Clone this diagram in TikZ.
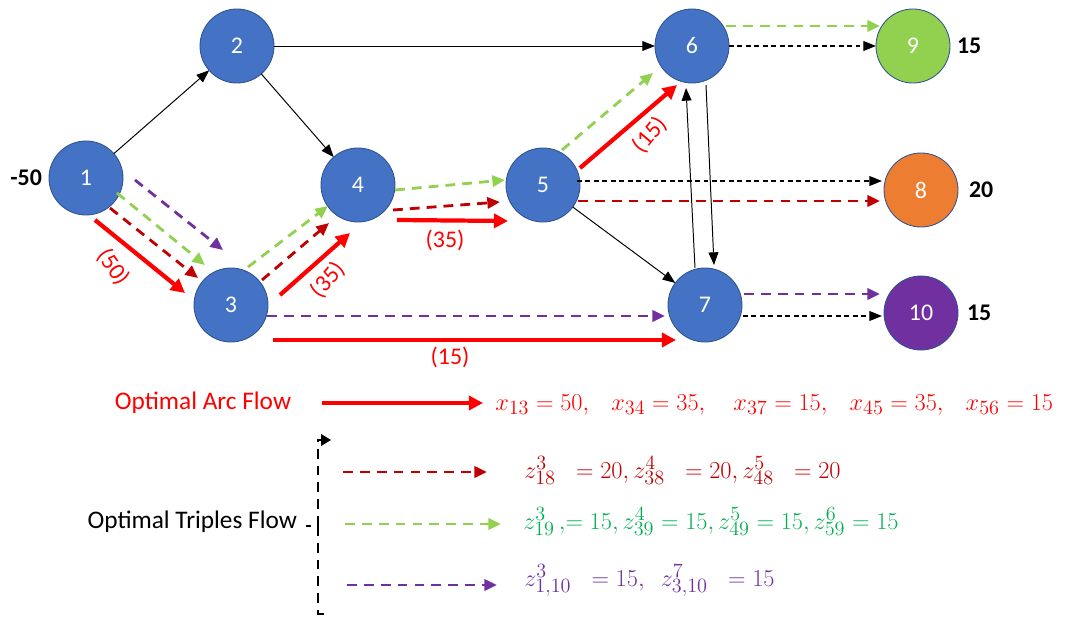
\documentclass[tikz,border=0pt]{standalone}
\usepackage{fontspec}
\setmainfont{Carlito}
\usetikzlibrary{arrows.meta, calc}
\definecolor{NodeBlue}{HTML}{4472C4}
\definecolor{NodeBorder}{HTML}{2F528F}
\definecolor{SinkGreen}{HTML}{92D050}
\definecolor{SinkOrange}{HTML}{ED7D31}
\definecolor{SinkPurple}{HTML}{7030A0}
\definecolor{FlowRed}{HTML}{FF0000}
\definecolor{TripleRed}{HTML}{C00000}
\definecolor{TripleGreen}{HTML}{92D050}
\definecolor{TriplePurple}{HTML}{7030A0}
\definecolor{EqGreen}{HTML}{00B050}
\tikzset{
    % network vertices
    vertex/.style={
        circle,
        draw=NodeBorder,
        fill=NodeBlue,
        line width=0.6pt,
        minimum size=1.85cm,
        inner sep=0pt,
        outer sep=0pt,
        text=white,
        font=\fontsize{17}{20}\selectfont
    },
    supply/.style={
        font=\fontsize{17}{20}\selectfont\bfseries,
        inner sep=2pt
    },
    % plain arcs
    link/.style={
        -{Triangle[length=9pt,width=7pt]},
        line width=0.7pt,
        black
    },
    link dashed/.style={
        link,
        line width=0.9pt,
        dash pattern=on 3.5pt off 2.5pt
    },
    % optimal flows
    flow/.style={
        -{Triangle[length=10pt,width=10pt]},
        line width=3pt,
        FlowRed
    },
    triple/.style={
        -{Triangle[length=9pt,width=8pt]},
        line width=2pt,
        dash pattern=on 7pt off 5pt
    },
    triple red/.style={triple, TripleRed},
    triple green/.style={triple, TripleGreen},
    triple purple/.style={triple, TriplePurple},
    flow label/.style={
        text=FlowRed,
        font=\fontsize{17}{20}\selectfont
    },
    % legend
    legend text/.style={
        font=\fontsize{18}{22}\selectfont
    },
    legend eq/.style={
        anchor=base west,
        inner sep=0pt,
        font=\fontsize{19}{23}\selectfont
    },
    bracket/.style={
        -{Triangle[length=7pt,width=8pt]},
        line width=2pt,
        dash pattern=on 7pt off 5pt
    }
}

\begin{document}
\begin{tikzpicture}[x=0.025cm, y=-0.025cm]
    \useasboundingbox (0,0) rectangle (1067,617);

    % Network nodes
    \node[vertex] (n1) at (86,178) {1};
    \node[vertex] (n2) at (237,46) {2};
    \node[vertex] (n3) at (231,305) {3};
    \node[vertex] (n4) at (358,185) {4};
    \node[vertex] (n5) at (543,185) {5};
    \node[vertex] (n6) at (692,46) {6};
    \node[vertex] (n7) at (705,305) {7};
    \node[vertex, fill=SinkGreen] (n9) at (913,46) {9};
    \node[vertex, fill=SinkOrange] (n8) at (921,190) {8};
    \node[vertex, fill=SinkPurple] (n10) at (921,313) {10};

    % Supplies and demands
    \node[supply, left] (s1) at ([xshift=-0.1cm]n1.west) {-50};
    \node[supply, right] (s9) at ([xshift=0.1cm]n9.east) {15};
    \node[supply, right] (s8) at ([xshift=0.2cm]n8.east) {20};
    \node[supply, right] (s10) at ([xshift=0.15cm]n10.east) {15};

    % Network arcs
    \draw[link] (n1) -- (n2);
    \draw[link] (n2) -- (n4);
    \draw[link] (n2) -- (n6);
    \draw[link] (n5) -- (n7);
    \draw[link] ($(n6)+(14,39)$) -- ($(n7)+(9,-40)$);
    \draw[link] ($(n7)+(-10,-37)$) -- ($(n6)+(-6,42)$);
    \draw[link dashed] ($(n5)+(34,-4)$) -- ($(n8)+(-39,-9)$);
    \draw[link dashed] (n6) -- (n9);
    \draw[link dashed] ($(n7)+(38,11)$) -- ($(n10)+(-39,3)$);

    % Optimal arc flow
    \draw[flow] ($(n1)+(9,42)$) -- ($(n3)+(-46,-12)$);
    \draw[flow] ($(n3)+(49,-10)$) -- ($(n4)+(-8,48)$);
    \draw[flow] ($(n4)+(39,35)$) -- ($(n5)+(-35,36)$);
    \draw[flow] ($(n3)+(42,35)$) -- ($(n7)+(-29,35)$);
    \draw[flow] ($(n5)+(37,-17)$) -- ($(n6)+(-15,39)$);
    \node[flow label, rotate=-55] (f13) at (113,267) {(50)};
    \node[flow label, rotate=50] (f34) at (328,280) {(35)};
    \node[flow label] (f45) at (445,240) {(35)};
    \node[flow label] (f37) at (450,357) {(15)};
    \node[flow label, rotate=50] (f56) at (650,135) {(15)};

    % Triples flow, red
    \draw[triple red] ($(n1)+(24,30)$) -- ($(n3)+(-33,-27)$);
    \draw[triple red] ($(n3)+(31,-25)$) -- ($(n4)+(-29,38)$);
    \draw[triple red] ($(n4)+(35,25)$) -- ($(n5)+(-43,17)$);
    \draw[triple red] ($(n5)+(35,16)$) -- ($(n8)+(-41,11)$);

    % Triples flow, green
    \draw[triple green] ($(n1)+(31,15)$) -- ($(n3)+(-26,-40)$);
    \draw[triple green] ($(n3)+(17,-38)$) -- ($(n4)+(-30,21)$);
    \draw[triple green] ($(n4)+(37,5)$) -- ($(n5)+(-38,-5)$);
    \draw[triple green] ($(n5)+(19,-35)$) -- ($(n6)+(-39,27)$);
    \draw[triple green] ($(n6)+(34,-20)$) -- ($(n9)+(-33,-20)$);

    % Triples flow, purple
    \draw[triple purple] ($(n1)+(49,2)$) -- ($(n3)+(-8,-55)$);
    \draw[triple purple] ($(n3)+(36,11)$) -- ($(n7)+(-40,11)$);
    \draw[triple purple] ($(n7)+(39,-11)$) -- ($(n10)+(-41,-19)$);

    % Legend: arc flow
    \node[legend text, text=FlowRed] (arcLabel) at (203,403) {Optimal Arc Flow};
    \coordinate (arcStart) at (322,403);
    \node[legend eq, text=FlowRed] (arcEq) at (495,410)
        {$x_{13} = 50,\ \ \ x_{34} = 35,\ \ \ \ x_{37} = 15,\ \ \ x_{45} = 35,\ \ \ x_{56} = 15$};
    \draw[flow] (arcStart) -- ($(arcEq.base west)+(-12,-7)$);

    % Legend: triples flow
    \node[legend text, anchor=east] (tripleLabel) at (302,522) {Optimal Triples Flow};
    \draw[bracket] (324,614) -| (318,526) -- (306,526) (318,526) |- (331,440);

    \node[legend eq, text=TripleRed] (redEq) at (524,478)
        {$z^3_{18} \;\;= 20,z^4_{38} \;\;= 20,z^5_{48} \;\;= 20$};
    \coordinate (redStart) at (343,472);
    \draw[triple red] (redStart) -- ($(redEq.base west)+(-37,-6)$);

    \node[legend eq, text=EqGreen] (greenEq) at (523,529)
        {$z^3_{19}\,,\!= 15, z^4_{39} = 15, z^5_{49} = 15, z^6_{59} = 15$};
    \coordinate (greenStart) at (345,524);
    \draw[triple green] (greenStart) -- ($(greenEq.base west)+(-22,-5)$);

    \node[legend eq, text=TriplePurple] (purpleEq) at (524,586)
        {$z^3_{1,10} \;\;= 15,\ \ z^7_{3,10} \;\;= 15$};
    \coordinate (purpleStart) at (347,585);
    \draw[triple purple] (purpleStart) -- ($(purpleEq.base west)+(-27,-1)$);
\end{tikzpicture}
\end{document}
